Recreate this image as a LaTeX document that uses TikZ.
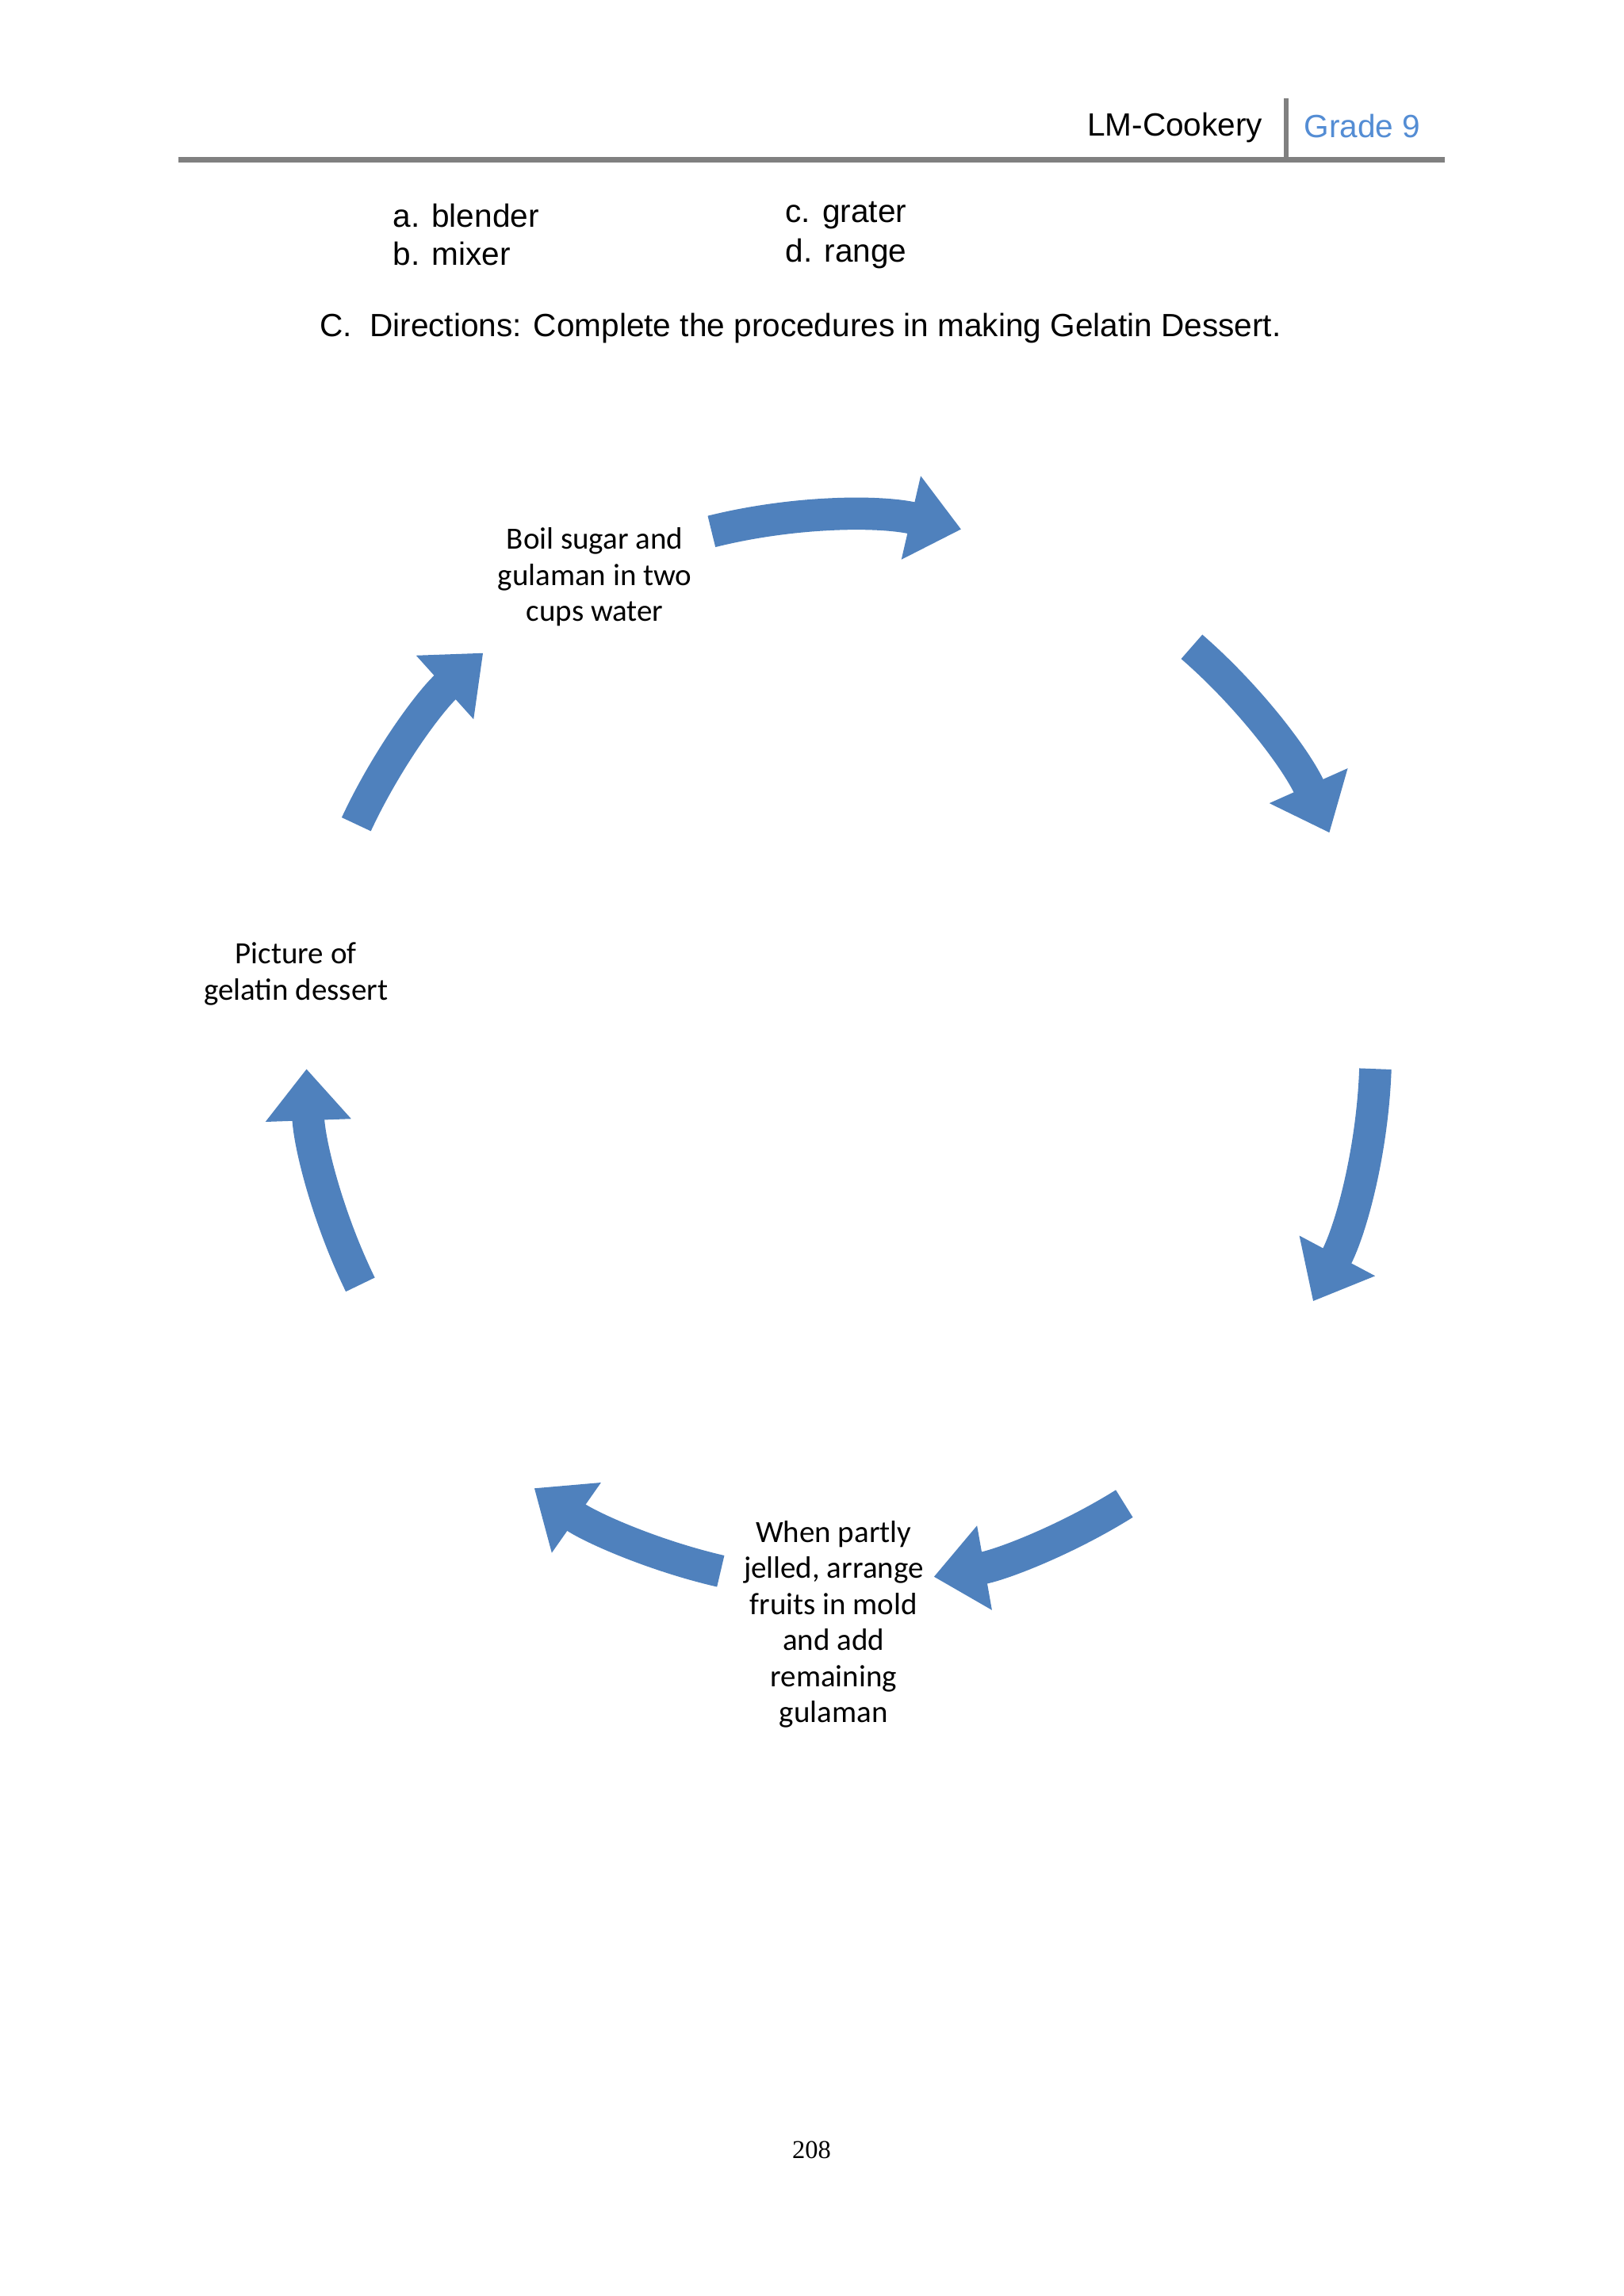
\documentclass[tikz,border=0pt]{standalone}
\usepackage{fontspec}
\setmainfont{Liberation Sans}
\newfontfamily\carlfont{Carlito}
\newfontfamily\tmsfont{Liberation Serif}
\usetikzlibrary{arrows.meta}
\definecolor{arr}{HTML}{4F81BD}
\definecolor{hdr}{HTML}{548DD4}
\begin{document}
\begin{tikzpicture}[x=0.02cm,y=-0.02cm,
  carr/.style={arr,line width=12.5pt,-{Triangle[length=20pt,width=32pt]}},
  lbl/.style={font=\carlfont\fontsize{12}{14}\selectfont,align=center},
  hd/.style={font=\fontsize{12.5}{15}\selectfont}]
\useasboundingbox (0,0) rectangle (1108.5,1567.5);
\fill[white] (0,0) rectangle (1108.5,1567.5);
% header
\node[hd,anchor=east] (lm) at (868,87) {LM-Cookery};
\node[hd,anchor=west,text=hdr] (gr) at (884,86) {Grade 9};
\draw[gray,line width=2pt] (878,67) -- (878,108);
\draw[gray,line width=2.2pt] (122,109) -- (986,109);
\node[hd,anchor=west] (a) at (262,147) {a. blender};
\node[hd,anchor=west] (b) at (262,173) {b. mixer};
\node[hd,anchor=west] (c) at (530,147) {c. grater};
\node[hd,anchor=west] (d) at (530,173) {d. range};
\node[hd,anchor=west] (dir) at (212,224) {C.\ \ Directions: Complete the procedures in making Gelatin Dessert.};
% cycle arrows
\coordinate (O) at (574,717);
\foreach \s/\e in {104/77, 49/24, -2/-28, -58/-80, -103/-125, -154/-178, 155/132}{
  \draw[carr] (O) ++(-\s:365) arc[start angle=-\s,end angle=-\e,radius=365];
}
\node[lbl] (n1) at (406,394) {Boil sugar and\\gulaman in two\\cups water};
\node[lbl] (n2) at (569,1109) {When partly\\jelled, arrange\\fruits in mold\\and add\\remaining\\gulaman};
\node[lbl] (n3) at (202,665) {Picture of\\gelatin dessert};
\node[font=\tmsfont\fontsize{10}{12}\selectfont] (pg) at (554,1468) {208};
\end{tikzpicture}
\end{document}
